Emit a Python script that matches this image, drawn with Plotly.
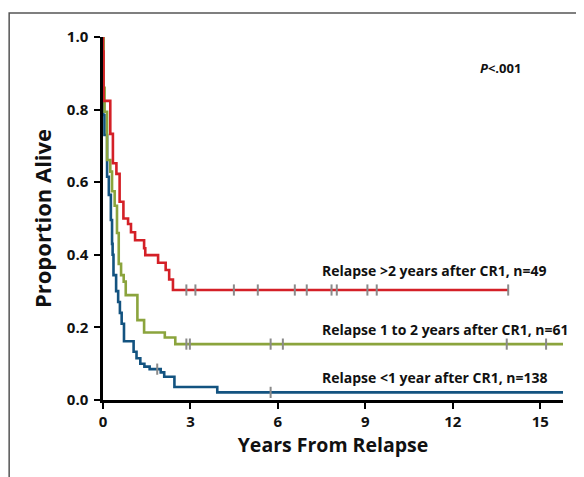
import numpy as np
import plotly.graph_objects as go

# ---- data (years from relapse, survival proportion) ----
red_t = [0, 0, 0.02, 0.25, 0.34, 0.46, 0.57, 0.70, 0.86, 0.96, 1.10, 1.41, 1.45, 1.89, 2.15, 2.27, 2.40, 13.90]
red_s = [1.0, 0.96, 0.824, 0.733, 0.652, 0.623, 0.546, 0.50, 0.485, 0.462, 0.44, 0.418, 0.399, 0.378, 0.358, 0.332, 0.303, 0.303]
red_cens = [2.86, 3.17, 4.49, 5.31, 6.58, 6.99, 7.84, 8.02, 9.07, 9.39, 13.90]

green_t = [0, 0.02, 0.055, 0.14, 0.25, 0.31, 0.40, 0.48, 0.54, 0.62, 0.71, 0.78, 1.18, 1.41, 2.12, 2.48, 15.78]
green_s = [1.0, 0.86, 0.794, 0.661, 0.629, 0.575, 0.535, 0.46, 0.375, 0.344, 0.326, 0.289, 0.22, 0.186, 0.172, 0.154, 0.154]
green_cens = [2.86, 2.98, 5.75, 6.17, 13.85, 15.2]

blue_t = [0, 0, 0.01, 0.05, 0.14, 0.20, 0.27, 0.31, 0.33, 0.36, 0.45, 0.52, 0.58, 0.64, 0.72, 1.05, 1.15, 1.28, 1.42, 1.60, 1.98, 2.10, 2.45, 3.92, 15.78]
blue_s = [1.0, 0.96, 0.785, 0.73, 0.615, 0.565, 0.496, 0.43, 0.40, 0.344, 0.30, 0.27, 0.24, 0.21, 0.162, 0.133, 0.115, 0.10, 0.092, 0.085, 0.076, 0.064, 0.036, 0.021, 0.021]
blue_cens = [1.86, 5.75]

labels = ["Relapse >2 years after CR1, n=49",
          "Relapse 1 to 2 years after CR1, n=61",
          "Relapse <1 year after CR1, n=138"]
label_x = [7.44, 7.44, 7.44]
label_y = [0.358, 0.193, 0.061]

x_ticks = [0, 3, 6, 9, 12, 15]
y_ticks = [0.0, 0.2, 0.4, 0.6, 0.8, 1.0]

colors = ["#D42027", "#8BA43D", "#135380"]
cens_color = "#8A8A8A"
FONT = "Open Sans"


def level_at(ts, ss, t):
    i = np.searchsorted(np.array(ts), t, side="right") - 1
    return ss[max(i, 0)]


fig = go.Figure()
series = [(blue_t, blue_s, blue_cens, colors[2]),
          (green_t, green_s, green_cens, colors[1]),
          (red_t, red_s, red_cens, colors[0])]
for ts, ss, cens, col in series:
    fig.add_trace(go.Scatter(x=ts, y=ss, mode="lines", line=dict(color=col, width=2.6, shape="hv"),
                             showlegend=False, hoverinfo="skip"))
for ts, ss, cens, col in series:
    fig.add_trace(go.Scatter(x=cens, y=[level_at(ts, ss, c) for c in cens], mode="markers",
                             marker=dict(symbol="line-ns", size=8, line=dict(color=cens_color, width=2)),
                             showlegend=False, hoverinfo="skip", cliponaxis=False))

for txt, lx, ly in zip(labels, label_x, label_y):
    fig.add_annotation(x=lx, y=ly, text=txt, showarrow=False, xanchor="left", yanchor="middle",
                       font=dict(family=FONT, size=14, color="#111111", weight=700))

fig.add_annotation(x=14.4, y=0.915, text="<i>P</i><.001", showarrow=False, xanchor="right", yanchor="middle",
                   font=dict(family=FONT, size=13, color="#111111", weight=700))

# outer frame (extends beyond window on right/bottom)
fig.add_shape(type="rect", xref="paper", yref="paper", x0=-0.204, x1=1.3, y0=-0.4, y1=1.066,
              line=dict(color="#555555", width=1.5), layer="below")

fig.update_layout(
    width=576, height=469,
    margin=dict(l=95, r=21, t=29, b=77),
    paper_bgcolor="white", plot_bgcolor="white",
    font=dict(family=FONT, color="#111111"),
    xaxis=dict(range=[0, 15.78], tickvals=x_ticks, ticktext=[str(v) for v in x_ticks],
               showline=True, linecolor="black", linewidth=2.5, ticks="outside", ticklen=6,
               tickwidth=2, tickcolor="black", showgrid=False, zeroline=False,
               tickfont=dict(family=FONT, size=15, color="#111111", weight=700),
               title=dict(text="Years From Relapse", standoff=0,
                          font=dict(family=FONT, size=19.5, color="#111111", weight=700))),
    yaxis=dict(range=[0, 1.0], tickvals=y_ticks, ticktext=[f"{v:.1f}" for v in y_ticks],
               showline=True, linecolor="black", linewidth=2.5, ticks="outside", ticklen=6,
               tickwidth=2, tickcolor="black", showgrid=False, zeroline=False, ticklabelstandoff=3,
               tickfont=dict(family=FONT, size=15, color="#111111", weight=700),
               title=dict(text="Proportion Alive", standoff=10,
                          font=dict(family=FONT, size=22, color="#111111", weight=700))),
)

fig.write_html("out.html")
